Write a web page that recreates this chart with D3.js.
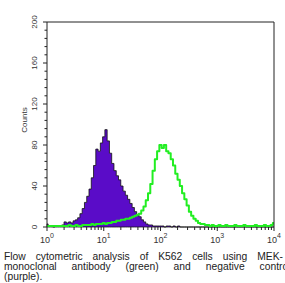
<!DOCTYPE html>
<html>
<head>
<meta charset="utf-8">
<script src="https://cdn.jsdelivr.net/npm/d3@7"></script>
<style>
  html, body { margin: 0; padding: 0; background: #fff; overflow: hidden; }
  svg { display: block; font-family: "Liberation Sans", Arial, sans-serif; }
</style>
</head>
<body>
<div id="chart"></div>
<script>
// histogram bins, log10 channel step
const binStep = 0.04;

// negative control (purple), counts per bin
const purpleCounts = [
  3, 1, 1, 0, 1, 1, 1, 2, 5, 4,
  5, 4, 6, 7, 9, 13, 18, 24, 30, 37,
  48, 60, 76, 74, 82, 88, 95, 84, 72, 62,
  55, 50, 46, 40, 35, 31, 27, 23, 19, 15,
  12, 10, 7, 5, 3, 2, 2, 1, 1, 1,
  1, 1, 0, 1, 1, 0, 1, 0, 1, 0,
  0, 0, 0, 0, 0, 0, 0, 0, 0, 0,
  0, 0, 0, 0, 0, 0, 0, 0, 0, 0,
  0, 0, 0, 0, 0, 0, 0, 0, 0, 0,
  0, 0, 0, 0, 0, 0, 0, 0, 0, 0,
  0
];

// MEK antibody (green), counts per bin
const greenCounts = [
  1, 1, 1, 1, 1, 1, 1, 1, 1, 1,
  2, 1, 1, 2, 1, 1, 2, 2, 2, 2,
  3, 2, 3, 3, 3, 4, 3, 4, 4, 5,
  5, 6, 6, 7, 7, 8, 8, 9, 10, 11,
  12, 13, 16, 20, 26, 33, 42, 55, 66, 74,
  80, 77, 80, 74, 72, 66, 60, 52, 46, 40,
  33, 27, 21, 15, 11, 8, 6, 4, 3, 3,
  2, 2, 1, 2, 1, 1, 2, 1, 1, 2,
  1, 1, 1, 2, 1, 1, 1, 2, 1, 1,
  1, 1, 2, 1, 1, 1, 2, 1, 1, 2,
  4
];

const yTicks = [0, 40, 80, 120, 160, 200];
const xDecades = [1, 10, 100, 1000, 10000];
const captionLines = [
  "Flow cytometric analysis of K562 cells using MEK-",
  "monoclonal antibody (green) and negative control",
  "(purple)."
];

const width = 285;
const height = 283;
const plot = { left: 47, right: 274, top: 22, bottom: 227 };

const svg = d3.select("#chart")
  .append("svg")
  .attr("width", width)
  .attr("height", height);

const x = d3.scaleLog().domain([1, 10000]).range([plot.left, plot.right]);
const y = d3.scaleLinear().domain([0, 200]).range([plot.bottom, plot.top]);

const toPoints = (counts) =>
  counts.map((c, i) => ({ v: Math.pow(10, i * binStep), c }));

// purple filled histogram
const area = d3.area()
  .x((d) => x(d.v))
  .y0(y(0))
  .y1((d) => y(d.c))
  .curve(d3.curveStep);

svg.append("path")
  .datum(toPoints(purpleCounts))
  .attr("d", area)
  .attr("fill", "#5a0cc8")
  .attr("stroke", "#111")
  .attr("stroke-width", 0.8);

// green outline histogram
const line = d3.line()
  .x((d) => x(d.v))
  .y((d) => y(d.c))
  .curve(d3.curveStep);

svg.append("path")
  .datum(toPoints(greenCounts))
  .attr("d", line)
  .attr("fill", "none")
  .attr("stroke", "#22ee22")
  .attr("stroke-width", 2)
  .attr("stroke-linejoin", "round");

// frame: left, top, right
svg.append("path")
  .attr("d", `M${plot.left},${plot.bottom}V${plot.top}H${plot.right}V${plot.bottom}`)
  .attr("fill", "none")
  .attr("stroke", "#222")
  .attr("stroke-width", 1);

// left ticks (minor every 8)
const yMinor = d3.range(0, 201, 8);
svg.append("g")
  .selectAll("line")
  .data(yMinor)
  .join("line")
  .attr("x1", plot.left)
  .attr("x2", (d) => plot.left - (d % 40 === 0 ? 4 : 2.5))
  .attr("y1", (d) => y(d))
  .attr("y2", (d) => y(d))
  .attr("stroke", "#222")
  .attr("stroke-width", 1);

svg.append("g")
  .selectAll("text")
  .data(yTicks)
  .join("text")
  .attr("transform", (d) => `translate(37,${y(d)}) rotate(-90)`)
  .attr("text-anchor", "middle")
  .attr("font-size", 8)
  .attr("fill", "#333")
  .text((d) => d);

svg.append("text")
  .attr("transform", `translate(27,120) rotate(-90)`)
  .attr("text-anchor", "middle")
  .attr("font-size", 8)
  .attr("fill", "#333")
  .text("Counts");

// bottom ticks
svg.append("g")
  .selectAll("line")
  .data(x.ticks())
  .join("line")
  .attr("x1", (d) => x(d))
  .attr("x2", (d) => x(d))
  .attr("y1", plot.bottom)
  .attr("y2", (d) => plot.bottom + (xDecades.includes(d) ? 4 : 3))
  .attr("stroke", "#222")
  .attr("stroke-width", 1);

const xl = svg.append("g")
  .selectAll("text")
  .data(xDecades)
  .join("text")
  .attr("x", (d) => x(d))
  .attr("y", 243)
  .attr("text-anchor", "middle")
  .attr("font-size", 9)
  .attr("fill", "#333");
xl.append("tspan").text("10");
xl.append("tspan")
  .attr("dy", -5)
  .attr("font-size", 7)
  .text((d) => Math.round(Math.log10(d)));

// caption, justified by adjusting the word gaps
const capY = [260, 270, 279.5];
const capLen = [279, 286.5, null];
svg.append("g")
  .selectAll("text")
  .data(captionLines)
  .join("text")
  .attr("x", 4)
  .attr("y", (d, i) => capY[i])
  .attr("font-size", 10.3)
  .attr("fill", "#222")
  .text((d) => d)
  .each(function (d, i) {
    if (!capLen[i]) return;
    const natural = this.getComputedTextLength();
    const gaps = d.split(" ").length - 1;
    d3.select(this).attr("word-spacing", (capLen[i] - natural) / gaps);
  });
</script>
</body>
</html>
